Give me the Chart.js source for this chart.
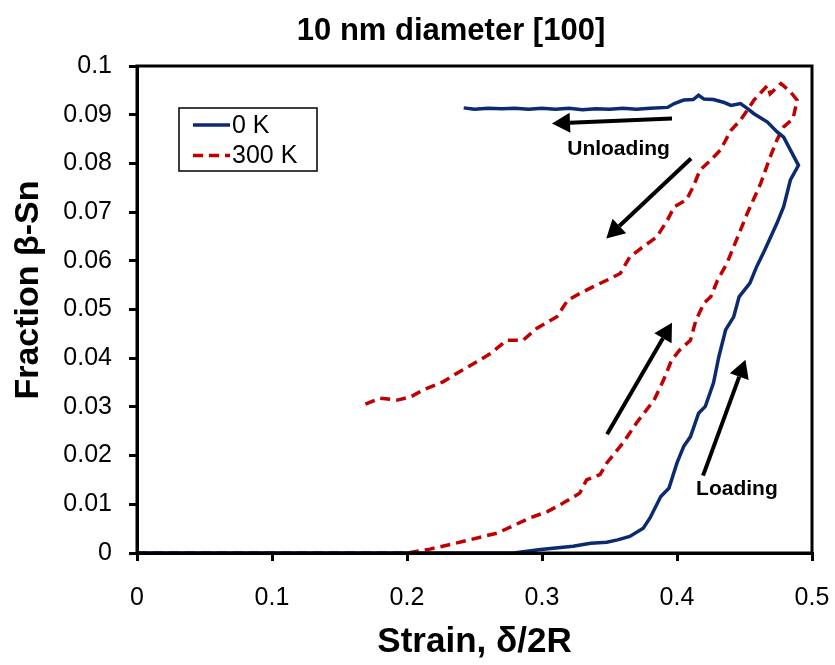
<!DOCTYPE html>
<html>
<head>
<meta charset="utf-8">
<script src="https://cdn.jsdelivr.net/npm/chart.js@4.4.1/dist/chart.umd.min.js"></script>
<style>
  html, body { margin: 0; padding: 0; background: #fff; }
  #wrap { width: 835px; height: 665px; }
</style>
</head>
<body>
<div id="wrap"><canvas id="fractionChart" width="835" height="665"></canvas></div>
<script>
// 0 K run: loading up to the peak, then unloading to the left
var strain0K = [0, 0.279, 0.299, 0.323, 0.336, 0.348, 0.356, 0.365, 0.375, 0.380,
    0.388, 0.394, 0.400, 0.405, 0.410, 0.416, 0.421, 0.427, 0.431, 0.436,
    0.442, 0.446, 0.454, 0.459, 0.465, 0.474, 0.479, 0.484, 0.490,
    0.479, 0.474, 0.467, 0.457, 0.452, 0.447, 0.440, 0.435, 0.427, 0.420,
    0.416, 0.412, 0.405, 0.398, 0.393, 0.380, 0.370, 0.360, 0.350, 0.340,
    0.330, 0.320, 0.310, 0.300, 0.290, 0.280, 0.270, 0.260, 0.250, 0.242];
var frac0K = [0, 0, 0.0007, 0.0014, 0.0020, 0.0022, 0.0027, 0.0034, 0.0051, 0.0072,
    0.0116, 0.0133, 0.0185, 0.0219, 0.0239, 0.0287, 0.0301, 0.0349, 0.0403, 0.0458,
    0.0485, 0.0526, 0.0554, 0.0588, 0.0622, 0.0677, 0.0711, 0.0766, 0.0796,
    0.0854, 0.0865, 0.0885, 0.0902, 0.0913, 0.0923, 0.0919, 0.0925, 0.0931, 0.0932,
    0.0940, 0.0931, 0.0930, 0.0923, 0.0915, 0.0913, 0.0911, 0.0913, 0.0911, 0.0912,
    0.0910, 0.0913, 0.0911, 0.0913, 0.0911, 0.0913, 0.0912, 0.0913, 0.0911, 0.0914];

// 300 K run
var strain300K = [0, 0.200, 0.217, 0.242, 0.267, 0.291, 0.304, 0.316, 0.328, 0.333,
    0.343, 0.348, 0.360, 0.370, 0.383, 0.390, 0.396, 0.402, 0.410, 0.414,
    0.420, 0.425, 0.430, 0.437, 0.442, 0.452, 0.462, 0.469, 0.474, 0.479,
    0.486, 0.489, 0.484, 0.477,
    0.469, 0.467, 0.457, 0.452, 0.447, 0.440, 0.432, 0.425, 0.417, 0.412,
    0.407, 0.398, 0.393, 0.385, 0.375, 0.365, 0.358, 0.348, 0.338, 0.328,
    0.319, 0.311, 0.296, 0.286, 0.274, 0.262, 0.252, 0.237, 0.227, 0.212,
    0.203, 0.193, 0.180, 0.165];
var frac300K = [0, 0, 0.0008, 0.0024, 0.0041, 0.0072, 0.0085, 0.0103, 0.0123, 0.0150,
    0.0161, 0.0185, 0.0226, 0.0267, 0.0314, 0.0355, 0.0396, 0.0417, 0.0437, 0.0478,
    0.0513, 0.0526, 0.0560, 0.0595, 0.0629, 0.0697, 0.0759, 0.0813, 0.0848, 0.0875,
    0.0892, 0.0930, 0.0947, 0.0964,
    0.0943, 0.0960, 0.0930, 0.0909, 0.0889, 0.0868, 0.0827, 0.0807, 0.0786, 0.0752,
    0.0725, 0.0711, 0.0684, 0.0649, 0.0629, 0.0608, 0.0574, 0.0560, 0.0547, 0.0533,
    0.0519, 0.0485, 0.0461, 0.0437, 0.0437, 0.0410, 0.0393, 0.0369, 0.0352, 0.0335,
    0.0321, 0.0314, 0.0318, 0.0301];

var seriesNames = ['0 K', '300 K'];
var xTickLabels = ['0', '0.1', '0.2', '0.3', '0.4', '0.5'];
var yTickLabels = ['0', '0.01', '0.02', '0.03', '0.04', '0.05', '0.06', '0.07', '0.08', '0.09', '0.1'];

// arrows drawn as [fromStrain, fromFrac, toStrain, toFrac]
var arrows = [
    [0.3963, 0.0892, 0.3074, 0.0882],
    [0.4104, 0.0810, 0.3476, 0.0646],
    [0.3482, 0.0244, 0.3963, 0.0473],
    [0.4193, 0.0159, 0.4507, 0.0397]
];
var notes = [
    { text: 'Unloading', x: 0.3567, y: 0.0829 },
    { text: 'Loading', x: 0.4444, y: 0.0131 }
];

function toPoints(xs, ys) {
    return xs.map(function (x, i) { return { x: x, y: ys[i] }; });
}

var FONT = "'Liberation Sans', Arial, sans-serif";

var overlay = {
    id: 'overlay',
    afterDraw: function (chart) {
        var ctx = chart.ctx;
        var area = chart.chartArea;
        var xs = chart.scales.x, ys = chart.scales.y;
        ctx.save();

        // frame round the plot
        ctx.strokeStyle = '#000';
        ctx.lineWidth = 3;
        ctx.strokeRect(area.left, area.top, area.right - area.left, area.bottom - area.top);

        // arrows
        ctx.fillStyle = '#000';
        arrows.forEach(function (a) {
            var x0 = xs.getPixelForValue(a[0]), y0 = ys.getPixelForValue(a[1]);
            var x1 = xs.getPixelForValue(a[2]), y1 = ys.getPixelForValue(a[3]);
            var ang = Math.atan2(y1 - y0, x1 - x0);
            var headLen = 18, headW = 10;
            var bx = x1 - headLen * Math.cos(ang), by = y1 - headLen * Math.sin(ang);
            ctx.lineWidth = 4;
            ctx.beginPath();
            ctx.moveTo(x0, y0);
            ctx.lineTo(bx, by);
            ctx.stroke();
            ctx.beginPath();
            ctx.moveTo(x1, y1);
            ctx.lineTo(bx + headW * Math.sin(ang), by - headW * Math.cos(ang));
            ctx.lineTo(bx - headW * Math.sin(ang), by + headW * Math.cos(ang));
            ctx.closePath();
            ctx.fill();
        });

        ctx.font = 'bold 21px ' + FONT;
        ctx.textAlign = 'center';
        ctx.textBaseline = 'middle';
        notes.forEach(function (n) {
            ctx.fillText(n.text, xs.getPixelForValue(n.x), ys.getPixelForValue(n.y));
        });

        // legend box
        var lx = area.left + 42, ly = area.top + 42, lw = 138, lh = 63;
        ctx.fillStyle = '#fff';
        ctx.fillRect(lx, ly, lw, lh);
        ctx.lineWidth = 1.5;
        ctx.strokeStyle = '#000';
        ctx.strokeRect(lx, ly, lw, lh);
        chart.data.datasets.forEach(function (ds, i) {
            var yy = ly + 17 + i * 30.5;
            ctx.strokeStyle = ds.borderColor;
            ctx.lineWidth = ds.borderWidth;
            ctx.setLineDash(ds.borderDash || []);
            ctx.beginPath();
            ctx.moveTo(lx + 14, yy);
            ctx.lineTo(lx + 51, yy);
            ctx.stroke();
            ctx.setLineDash([]);
            ctx.fillStyle = '#000';
            ctx.font = '25px ' + FONT;
            ctx.textAlign = 'left';
            ctx.fillText(ds.label, lx + 53, yy + 1);
        });

        // chart title and y title
        ctx.fillStyle = '#000';
        ctx.textAlign = 'center';
        ctx.font = 'bold 31px ' + FONT;
        ctx.fillText('10 nm diameter [100]', 451, 31);
        ctx.translate(29, 290);
        ctx.rotate(-Math.PI / 2);
        ctx.font = 'bold 34px ' + FONT;
        ctx.fillText('Fraction \u03b2-Sn', 0, 0);
        ctx.restore();
    }
};

var ctx = document.getElementById('fractionChart').getContext('2d');
var fractionChart = new Chart(ctx, {
    type: 'scatter',
    data: {
        datasets: [{
            label: seriesNames[0],
            data: toPoints(strain0K, frac0K),
            showLine: true,
            borderColor: '#0b2a6f',
            borderWidth: 3.5,
            pointRadius: 0,
            tension: 0
        }, {
            label: seriesNames[1],
            data: toPoints(strain300K, frac300K),
            showLine: true,
            borderColor: '#c00000',
            borderWidth: 3.5,
            borderDash: [10, 6],
            pointRadius: 0,
            tension: 0
        }]
    },
    options: {
        responsive: false,
        animation: false,
        layout: { padding: { left: 0, right: 23, top: 66, bottom: 0 } },
        plugins: {
            legend: { display: false },
            title: { display: false },
            tooltip: { enabled: false }
        },
        scales: {
            x: {
                type: 'linear',
                min: 0,
                max: 0.5,
                afterFit: function (scale) {
                    scale.height = 112;
                    scale.paddingLeft = 0;
                    scale.paddingRight = 0;
                },
                ticks: {
                    stepSize: 0.1,
                    color: '#000',
                    padding: 22,
                    font: { family: FONT, size: 25 },
                    callback: function (v) { return xTickLabels[Math.round(v * 10)]; }
                },
                grid: { drawOnChartArea: false, drawTicks: true, tickLength: 8, color: '#000', lineWidth: 3 },
                border: { display: true, color: '#000', width: 3 },
                title: {
                    display: true,
                    text: 'Strain, \u03b4/2R',
                    color: '#000',
                    font: { family: FONT, size: 35, weight: 'bold' },
                    padding: { top: 0, bottom: 2 }
                }
            },
            y: {
                type: 'linear',
                min: 0,
                max: 0.1,
                afterFit: function (scale) {
                    scale.width = 137;
                    scale.paddingTop = 0;
                    scale.paddingBottom = 0;
                },
                ticks: {
                    stepSize: 0.01,
                    color: '#000',
                    padding: 17,
                    font: { family: FONT, size: 25 },
                    callback: function (v) { return yTickLabels[Math.round(v * 100)]; }
                },
                grid: { drawOnChartArea: false, drawTicks: true, tickLength: 8, color: '#000', lineWidth: 3 },
                border: { display: true, color: '#000', width: 3 }
            }
        }
    },
    plugins: [overlay]
});
</script>
</body>
</html>
